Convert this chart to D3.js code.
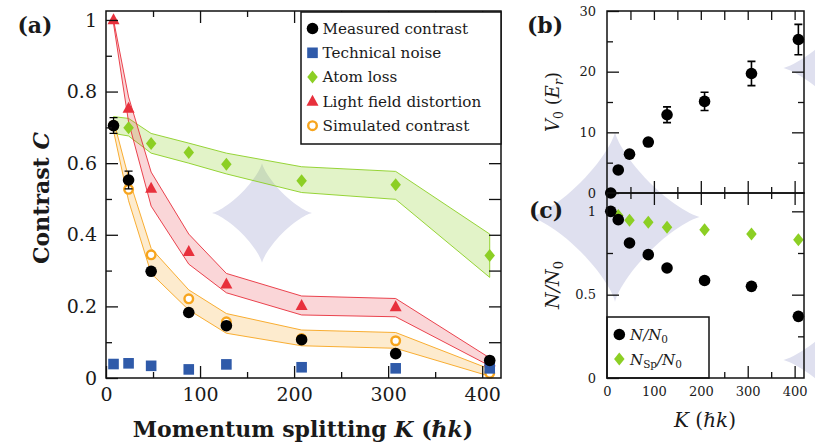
<!DOCTYPE html>
<html>
<head>
<meta charset="utf-8">
<title>Contrast vs momentum splitting</title>
<script src="https://cdn.jsdelivr.net/npm/d3@7"></script>
<style>
    body { margin: 0; background: #fff; }
    svg { display: block; }
    text { font-family: "DejaVu Serif", serif; fill: #1a1a1a; }
</style>
</head>
<body>
<svg id="chart" width="815" height="447"></svg>
<script>
// momentum splitting values (hbar k)
var K = [8, 24, 48, 88, 128, 208, 308, 408];

// panel (a): contrast
var measured     = [0.705, 0.553, 0.298, 0.183, 0.146, 0.107, 0.068, 0.049];
var measuredErr  = [0.022, 0.025, 0, 0, 0, 0, 0, 0];
var techNoise    = [0.039, 0.041, 0.034, 0.024, 0.038, 0.030, 0.027, 0.027];
var atomLoss     = [null, 0.699, 0.655, 0.630, 0.597, 0.551, 0.540, 0.342];
var atomLossHi   = [0.730, 0.725, 0.683, 0.656, 0.628, 0.590, 0.577, 0.402];
var atomLossLo   = [0.683, 0.676, 0.628, 0.600, 0.570, 0.518, 0.499, 0.281];
var lightField   = [1.0, 0.753, 0.530, 0.353, 0.262, 0.202, 0.199, 0.045];
var lightFieldHi = [1.0, 0.785, 0.575, 0.402, 0.292, 0.229, 0.222, 0.056];
var lightFieldLo = [0.99, 0.715, 0.480, 0.318, 0.238, 0.176, 0.171, 0.034];
var simulated    = [0.705, 0.527, 0.344, 0.221, 0.157, 0.110, 0.104, 0.013];
var simulatedHi  = [0.720, 0.560, 0.362, 0.246, 0.180, 0.134, 0.127, 0.025];
var simulatedLo  = [0.690, 0.495, 0.292, 0.190, 0.125, 0.090, 0.083, 0.005];

// panel (b): lattice depth
var V0    = [0, 3.8, 6.4, 8.4, 12.9, 15.1, 19.7, 25.3];
var V0err = [0, 0, 0.3, 0.5, 1.3, 1.5, 2.0, 2.5];

// panel (c): atom numbers
var NN0   = [1.0, 0.95, 0.81, 0.74, 0.66, 0.585, 0.55, 0.37];
var NSpN0 = [null, 0.975, 0.946, 0.934, 0.904, 0.89, 0.864, 0.83];

var cBlack = "#000", cBlue = "#2f5aa9", cGreen = "#8ccf24", cRed = "#e8303c", cOrange = "#f7a51e";

var svg = d3.select("#chart");

// background watermark stars
function starPath(cx, cy, r) {
    var pts = d3.range(0, 361, 3).map(function(a) {
        var t = a * Math.PI / 180, c = Math.cos(t), s = Math.sin(t);
        return [cx + r * Math.sign(c) * Math.pow(Math.abs(c), 2.6),
                cy + r * Math.sign(s) * Math.pow(Math.abs(s), 2.6)];
    });
    return d3.line()(pts) + "Z";
}
var stars = [[262, 213, 50], [615, 217, 85], [868, 68, 85], [868, 360, 85]];
svg.append("g").selectAll("path")
    .data(stars).enter().append("path")
    .attr("d", function(d) { return starPath(d[0], d[1], d[2]); })
    .attr("fill", "#dfe0ef");

// ---------- helpers ----------
function ticksInward(g, scale, orient, major, minor, lenMajor, lenMinor, size, fmt, fontSize, pad) {
    var mk = {bottom: d3.axisBottom, top: d3.axisTop, left: d3.axisLeft, right: d3.axisRight}[orient];
    var t = g.append("g").attr("transform",
        orient == "bottom" ? "translate(0," + size + ")" : orient == "right" ? "translate(" + size + ",0)" : null);
    var a1 = t.append("g").call(mk(scale).tickValues(major).tickSizeInner(-lenMajor).tickSizeOuter(0)
        .tickPadding(pad || 9).tickFormat(fmt || ""));
    t.append("g").call(mk(scale).tickValues(minor).tickSizeInner(-lenMinor).tickSizeOuter(0).tickFormat(""));
    t.selectAll(".domain").remove();
    t.selectAll("line").attr("stroke", "#111").attr("stroke-width", 1.3);
    a1.selectAll("text").attr("font-size", fontSize).attr("fill", "#1a1a1a").attr("font-family", "DejaVu Serif");
    return a1;
}
function circle(g, cx, cy, r, fill) {
    g.append("circle").attr("cx", cx).attr("cy", cy).attr("r", r).attr("fill", fill);
}
function diamond(g, cx, cy, w, h, fill) {
    g.append("path").attr("d", "M" + cx + "," + (cy - h / 2) + "L" + (cx + w / 2) + "," + cy +
        "L" + cx + "," + (cy + h / 2) + "L" + (cx - w / 2) + "," + cy + "Z").attr("fill", fill);
}
function triangle(g, cx, cy, w, h, fill) {
    g.append("path").attr("d", "M" + cx + "," + (cy - h * 0.6) + "L" + (cx + w / 2) + "," + (cy + h * 0.4) +
        "L" + (cx - w / 2) + "," + (cy + h * 0.4) + "Z").attr("fill", fill);
}

// ---------- panel (a) ----------
var aL = 106, aT = 11, aW = 395, aH = 367;
var xa = d3.scaleLinear().domain([0, 420]).range([0, aW]);
var ya = d3.scaleLinear().domain([0, 1.025]).range([aH, 0]);
var ga = svg.append("g").attr("transform", "translate(" + aL + "," + aT + ")");

function band(lo, hi, color, fillOp) {
    var pts = K.map(function(k, i) { return {k: k, lo: lo[i], hi: hi[i]}; });
    ga.append("path").datum(pts)
        .attr("d", d3.area().x(function(d) { return xa(d.k); })
            .y0(function(d) { return ya(d.lo); }).y1(function(d) { return ya(d.hi); }))
        .attr("fill", color).attr("fill-opacity", fillOp)
        .attr("stroke", color).attr("stroke-width", 1).attr("stroke-opacity", 0.9);
}
band(atomLossLo, atomLossHi, cGreen, 0.25);
band(lightFieldLo, lightFieldHi, cRed, 0.2);
band(simulatedLo, simulatedHi, cOrange, 0.22);

K.forEach(function(k, i) {
    ga.append("circle").attr("cx", xa(k)).attr("cy", ya(simulated[i])).attr("r", 4.3)
        .attr("fill", "#fff").attr("stroke", cOrange).attr("stroke-width", 2.4);
});
K.forEach(function(k, i) { triangle(ga, xa(k), ya(lightField[i]), 12, 11, cRed); });
K.forEach(function(k, i) { if (atomLoss[i] != null) diamond(ga, xa(k), ya(atomLoss[i]), 10.5, 13, cGreen); });
K.forEach(function(k, i) {
    ga.append("rect").attr("x", xa(k) - 5.3).attr("y", ya(techNoise[i]) - 5.3)
        .attr("width", 10.6).attr("height", 10.6).attr("fill", cBlue);
});
K.forEach(function(k, i) {
    if (measuredErr[i] > 0) {
        var y0 = ya(measured[i] - measuredErr[i]), y1 = ya(measured[i] + measuredErr[i]);
        ga.append("path").attr("d", "M" + xa(k) + "," + y0 + "V" + y1 +
            "M" + (xa(k) - 4) + "," + y0 + "h8M" + (xa(k) - 4) + "," + y1 + "h8")
            .attr("stroke", "#000").attr("stroke-width", 1.3).attr("fill", "none");
    }
    circle(ga, xa(k), ya(measured[i]), 5.8, cBlack);
});

var fmtA = function(d) { return d == 0 ? "0" : d == 1 ? "1" : d3.format(".1f")(d); };
ticksInward(ga, xa, "bottom", [0, 100, 200, 300, 400], [50, 150, 250, 350], 12, 6, aH, d3.format("d"), 19, 10);
ticksInward(ga, xa, "top", [100, 200, 300, 400], [50, 150, 250, 350], 12, 6, aH);
ticksInward(ga, ya, "left", [0, 0.2, 0.4, 0.6, 0.8, 1], [0.1, 0.3, 0.5, 0.7, 0.9], 12, 6, aW, fmtA, 19, 9);
ticksInward(ga, ya, "right", [0.1, 0.2, 0.3, 0.4, 0.5, 0.6, 0.7, 0.8, 0.9, 1], [], 12, 6, aW);
ga.append("rect").attr("width", aW).attr("height", aH).attr("fill", "none")
    .attr("stroke", "#111").attr("stroke-width", 1.5);

// legend (a)
var legendItems = ["Measured contrast", "Technical noise", "Atom loss", "Light field distortion", "Simulated contrast"];
var lg = svg.append("g").attr("transform", "translate(301,12)");
lg.append("rect").attr("width", 200).attr("height", 132).attr("fill", "#fff")
    .attr("stroke", "#111").attr("stroke-width", 1.5);
legendItems.forEach(function(name, i) {
    var cy = 16.5 + i * 24.3, cx = 11.5;
    if (i == 0) circle(lg, cx, cy, 5.8, cBlack);
    if (i == 1) lg.append("rect").attr("x", cx - 5.3).attr("y", cy - 5.3).attr("width", 10.6).attr("height", 10.6).attr("fill", cBlue);
    if (i == 2) diamond(lg, cx, cy, 10.5, 13, cGreen);
    if (i == 3) triangle(lg, cx, cy, 12, 11, cRed);
    if (i == 4) lg.append("circle").attr("cx", cx).attr("cy", cy).attr("r", 4.3).attr("fill", "#fff")
        .attr("stroke", cOrange).attr("stroke-width", 2.4);
    lg.append("text").attr("x", 21.5).attr("y", cy + 5.3).attr("font-size", 15.2).text(name);
});

svg.append("text").attr("x", 35).attr("y", 33).attr("text-anchor", "middle")
    .attr("font-size", 22).attr("font-weight", "bold").text("(a)");

var ttlA = svg.append("text").attr("transform", "translate(49,198) rotate(-90)")
    .attr("text-anchor", "middle").attr("font-size", 22).attr("font-weight", "bold");
ttlA.append("tspan").text("Contrast ");
ttlA.append("tspan").attr("font-style", "italic").text("C");

var ttlX = svg.append("text").attr("x", 303).attr("y", 437).attr("text-anchor", "middle")
    .attr("font-size", 22).attr("font-weight", "bold");
ttlX.append("tspan").text("Momentum splitting ");
ttlX.append("tspan").attr("font-style", "italic").text("K");
ttlX.append("tspan").text(" (");
ttlX.append("tspan").attr("font-style", "italic").text("\u210Fk");
ttlX.append("tspan").text(")");

// ---------- panel (b) ----------
var bL = 607, bT = 11, bW = 197, bH = 182;
var xb = d3.scaleLinear().domain([0, 420]).range([0, bW]);
var yb = d3.scaleLinear().domain([0, 30]).range([bH, 0]);
var gb = svg.append("g").attr("transform", "translate(" + bL + "," + bT + ")");

ticksInward(gb, yb, "left", [0, 10, 20, 30], [5, 15, 25], 12, 6, bW, d3.format("d"), 13, 11);
ticksInward(gb, yb, "right", [10, 20], [5, 15, 25], 12, 6, bW);
ticksInward(gb, xb, "top", [100, 200, 300, 400], [50, 150, 250, 350], 9, 9, bH);
ticksInward(gb, xb, "bottom", [100, 200, 300, 400], [50, 150, 250, 350], 12, 6, bH);
gb.append("rect").attr("width", bW).attr("height", bH).attr("fill", "none")
    .attr("stroke", "#111").attr("stroke-width", 1.5);

// ---------- panel (c) ----------
var cL = 607, cT = 193, cW = 197, cH = 185;
var xc = d3.scaleLinear().domain([0, 420]).range([0, cW]);
var yc = d3.scaleLinear().domain([0, 1.11]).range([cH, 0]);
var gc = svg.append("g").attr("transform", "translate(" + cL + "," + cT + ")");

ticksInward(gc, yc, "left", [0, 0.5, 1], [0.25, 0.75], 12, 6, cW, function(d) { return d == 0.5 ? "0.5" : d; }, 13, 11);
ticksInward(gc, yc, "right", [0.5, 1], [0.25, 0.75], 12, 6, cW);
ticksInward(gc, xc, "top", [100, 200, 300, 400], [50, 150, 250, 350], 12, 6, cH);
ticksInward(gc, xc, "bottom", [0, 100, 200, 300, 400], [50, 150, 250, 350], 12, 6, cH, d3.format("d"), 13, 9);

K.forEach(function(k, i) { if (NSpN0[i] != null) diamond(gc, xc(k), yc(NSpN0[i]), 10.5, 13, cGreen); });
K.forEach(function(k, i) { circle(gc, xc(k), yc(NN0[i]), 5.8, cBlack); });

// legend (c)
var lc = gc.append("g").attr("transform", "translate(0," + (cH - 61) + ")");
lc.append("rect").attr("width", 102).attr("height", 61).attr("fill", "#fff")
    .attr("stroke", "#111").attr("stroke-width", 1.5);
circle(lc, 12.3, 17.5, 5.8, cBlack);
diamond(lc, 12.3, 42, 10.5, 13, cGreen);
var t1 = lc.append("text").attr("x", 23).attr("y", 23).attr("font-size", 15);
t1.append("tspan").attr("font-style", "italic").text("N/N");
t1.append("tspan").attr("font-size", 10.5).attr("dy", 3).text("0");
var t2 = lc.append("text").attr("x", 23).attr("y", 47.5).attr("font-size", 15);
t2.append("tspan").attr("font-style", "italic").text("N");
t2.append("tspan").attr("font-size", 10.5).attr("dy", 3).text("Sp");
t2.append("tspan").attr("font-style", "italic").attr("dy", -3).text("/N");
t2.append("tspan").attr("font-size", 10.5).attr("dy", 3).text("0");

gc.append("rect").attr("width", cW).attr("height", cH).attr("fill", "none")
    .attr("stroke", "#111").attr("stroke-width", 1.5);

// panel (b) points drawn after (c) frame so the K=8 point sits on the shared border
K.forEach(function(k, i) {
    if (V0err[i] > 0) {
        var y0 = yb(V0[i] - V0err[i]), y1 = yb(V0[i] + V0err[i]);
        gb.append("path").attr("d", "M" + xb(k) + "," + y0 + "V" + y1 +
            "M" + (xb(k) - 4) + "," + y0 + "h8M" + (xb(k) - 4) + "," + y1 + "h8")
            .attr("stroke", "#000").attr("stroke-width", 1.6).attr("fill", "none");
    }
    circle(gb, xb(k), yb(V0[i]), 5.8, cBlack);
});

// panel labels and titles
svg.append("text").attr("x", 545).attr("y", 33).attr("text-anchor", "middle")
    .attr("font-size", 22).attr("font-weight", "bold").text("(b)");
svg.append("text").attr("x", 546).attr("y", 218).attr("text-anchor", "middle")
    .attr("font-size", 22).attr("font-weight", "bold").text("(c)");

var ttlB = svg.append("text").attr("transform", "translate(559,102) rotate(-90)")
    .attr("text-anchor", "middle").attr("font-size", 18);
ttlB.append("tspan").attr("font-style", "italic").text("V");
ttlB.append("tspan").attr("font-size", 12.5).attr("dy", 4).text("0");
ttlB.append("tspan").attr("dy", -4).text(" (");
ttlB.append("tspan").attr("font-style", "italic").text("E");
ttlB.append("tspan").attr("font-size", 12.5).attr("font-style", "italic").attr("dy", 4).text("r");
ttlB.append("tspan").attr("dy", -4).text(")");

var ttlC = svg.append("text").attr("transform", "translate(559,285) rotate(-90)")
    .attr("text-anchor", "middle").attr("font-size", 19);
ttlC.append("tspan").attr("font-style", "italic").text("N/N");
ttlC.append("tspan").attr("font-size", 13).attr("dy", 4).text("0");

var ttlK = svg.append("text").attr("x", 705).attr("y", 427).attr("text-anchor", "middle")
    .attr("font-size", 20);
ttlK.append("tspan").attr("font-style", "italic").text("K");
ttlK.append("tspan").text(" (");
ttlK.append("tspan").attr("font-style", "italic").text("\u210Fk");
ttlK.append("tspan").text(")");
</script>
</body>
</html>
